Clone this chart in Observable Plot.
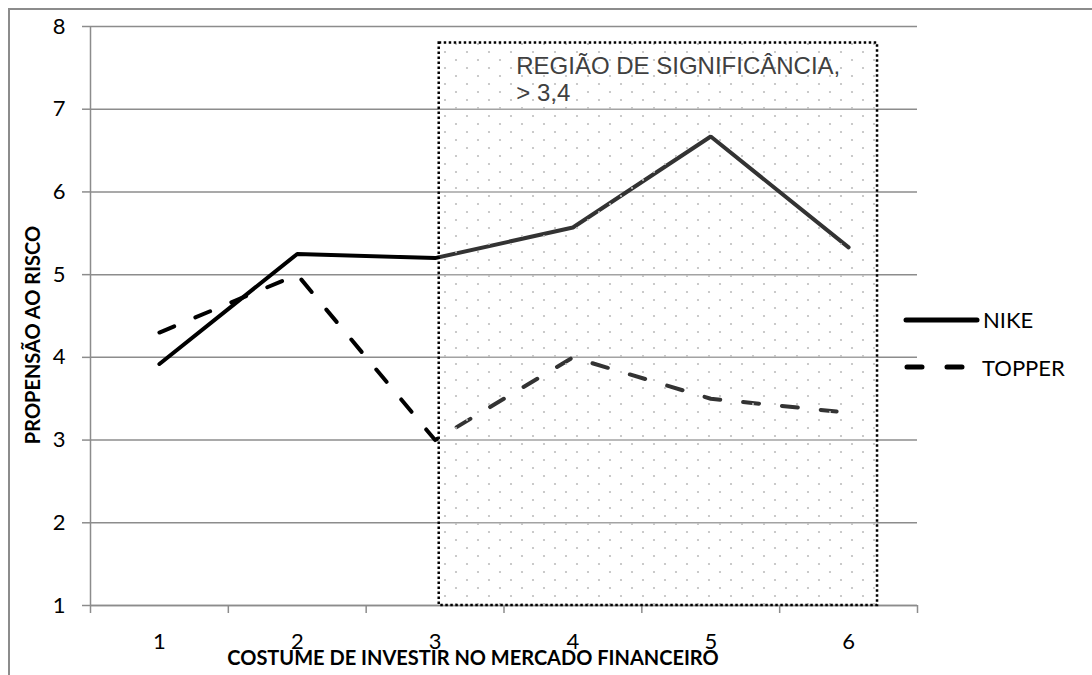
<!DOCTYPE html>
<html>
<head>
<meta charset="utf-8">
<script src="https://cdn.jsdelivr.net/npm/d3@7"></script>
<script src="https://cdn.jsdelivr.net/npm/@observablehq/plot@0.6"></script>
<style>
  body { margin: 0; background: #fff; }
  #wrap { position: relative; width: 1092px; height: 675px; overflow: hidden; background: #fff; }
  #frame { position: absolute; left: 8px; top: 8px; width: 1200px; height: 800px; border-top: 2px solid #8c8c8c; border-left: 2px solid #8c8c8c; pointer-events: none; }
  #legend { position: absolute; left: 0; top: 0; }
</style>
</head>
<body>
<div id="wrap"><div id="frame"></div></div>
<script>
// ---- data ----
const categories = [1, 2, 3, 4, 5, 6];
const nike = [3.92, 5.25, 5.2, 5.57, 6.67, 5.33];
const topper = [4.3, 5.0, 3.0, 4.0, 3.5, 3.33];
const seriesNames = ["NIKE", "TOPPER"];
const yTicks = [1, 2, 3, 4, 5, 6, 7, 8];
const xBoundaries = [0.5, 1.5, 2.5, 3.5, 4.5, 5.5, 6.5];
const regionX = [3.03, 6.21];
const regionY = [1, 7.8];
const regionLabel = ["REGIÃO DE SIGNIFICÂNCIA,", "> 3,4"];
const xTitle = "COSTUME DE INVESTIR NO MERCADO FINANCEIRO";
const yTitle = "PROPENSÃO AO RISCO";

const nikeRows = categories.map((c, i) => ({x: c, y: nike[i]}));
const topperRows = categories.map((c, i) => ({x: c, y: topper[i]}));
const regionRows = [{x1: regionX[0], x2: regionX[1], y1: regionY[0], y2: regionY[1]}];

const gray = "#8c8c8c";

const defsMark = () => {
  const defs = d3.create("svg:defs");
  const p = defs.append("pattern").attr("id", "dots").attr("patternUnits", "userSpaceOnUse")
    .attr("width", 22).attr("height", 16);
  p.append("circle").attr("cx", 5).attr("cy", 4).attr("r", 1.1).attr("fill", "#bdbdbd");
  p.append("circle").attr("cx", 16).attr("cy", 12).attr("r", 1.1).attr("fill", "#bdbdbd");
  return defs.node();
};

const chart = Plot.plot({
  width: 1092,
  height: 675,
  marginLeft: 90,
  marginRight: 175,
  marginTop: 26,
  marginBottom: 70,
  x: {domain: [0.5, 6.5]},
  y: {domain: [1, 8]},
  style: {fontFamily: "Lato, 'Open Sans', sans-serif", fontSize: "22px", color: "#000", background: "transparent", overflow: "visible"},
  marks: [
    defsMark,
    Plot.gridY(yTicks, {stroke: gray, strokeOpacity: 1, strokeWidth: 1.5}),
    Plot.ruleX([0.5], {stroke: gray, strokeWidth: 1.5}),
    Plot.ruleY([1], {stroke: gray, strokeWidth: 1.5}),
    Plot.axisY({ticks: yTicks, tickSize: 8, tickPadding: 17, tickFormat: d => String(d), stroke: gray, strokeWidth: 1.5, label: null, fontSize: 22, fill: "#000"}),
    Plot.axisX({ticks: xBoundaries, tickSize: 8, tickFormat: () => "", stroke: gray, strokeWidth: 1.5, label: null}),
    Plot.axisX({ticks: categories, tickSize: 0, tickPadding: 28, tickFormat: d => String(d), label: null, fontSize: 22, fill: "#000"}),
    Plot.line(nikeRows, {x: "x", y: "y", stroke: "#000", strokeWidth: 4, strokeLinejoin: "miter"}),
    Plot.line(topperRows, {x: "x", y: "y", stroke: "#000", strokeWidth: 4, strokeDasharray: "16,23", strokeLinecap: "round"}),
    Plot.rect(regionRows, {x1: "x1", x2: "x2", y1: "y1", y2: "y2", fill: "white", fillOpacity: 0.2}),
    Plot.rect(regionRows, {x1: "x1", x2: "x2", y1: "y1", y2: "y2", fill: "url(#dots)"}),
    Plot.rect(regionRows, {x1: "x1", x2: "x2", y1: "y1", y2: "y2", fill: "none", stroke: "#000", strokeWidth: 2.5, strokeDasharray: "2.5,2.5"}),
    Plot.text([regionLabel.join("\n")], {x: regionX[0], y: regionY[1], text: d => d, textAnchor: "start", lineAnchor: "top", dx: 77, dy: 11, lineHeight: 1.15, fontFamily: "'Liberation Sans', Arial, sans-serif", fontSize: 24, fill: "#404040"}),
    Plot.text([xTitle], {frameAnchor: "bottom", text: d => d, textAnchor: "middle", dx: -31, dy: 59, fontWeight: "bold", fontSize: 20, fill: "#000"}),
    Plot.text([yTitle], {frameAnchor: "left", text: d => d, textAnchor: "middle", rotate: -90, dx: -57, dy: 19, fontWeight: "bold", fontSize: 20, fill: "#000"})
  ]
});
document.getElementById("wrap").prepend(chart);

// legend
const leg = d3.select("#wrap").append("svg").attr("id", "legend").attr("width", 1092).attr("height", 675)
  .style("font-family", "Lato, 'Open Sans', sans-serif").style("font-size", "22px");
leg.append("line").attr("x1", 906).attr("x2", 977).attr("y1", 320).attr("y2", 320)
  .attr("stroke", "#000").attr("stroke-width", 5).attr("stroke-linecap", "round");
leg.append("line").attr("x1", 907).attr("x2", 966).attr("y1", 367).attr("y2", 367)
  .attr("stroke", "#000").attr("stroke-width", 5).attr("stroke-linecap", "round").attr("stroke-dasharray", "15,25");
leg.append("text").attr("x", 983).attr("y", 320).attr("dy", "0.36em").text(seriesNames[0]);
leg.append("text").attr("x", 982).attr("y", 368).attr("dy", "0.36em").text(seriesNames[1]);
</script>
</body>
</html>
